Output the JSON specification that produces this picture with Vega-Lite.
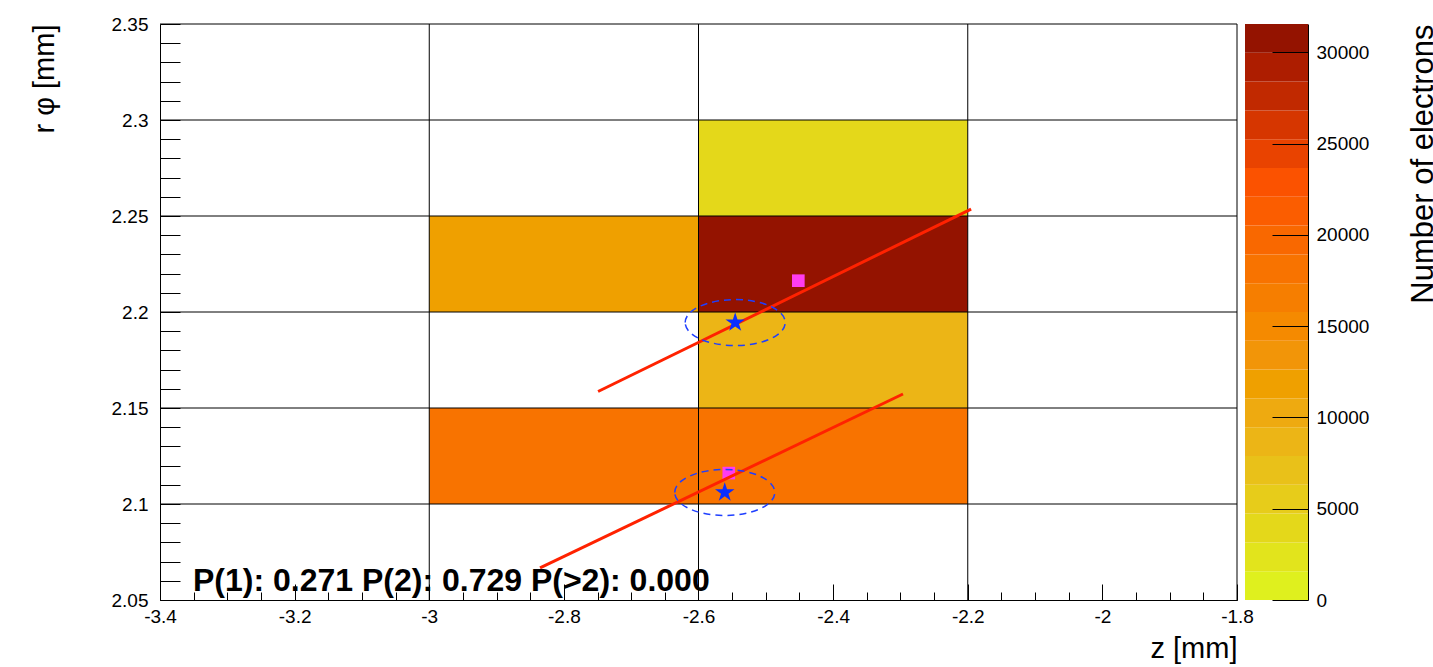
{
  "$schema": "https://vega.github.io/schema/vega-lite/v6.json",
  "width": 1148,
  "height": 576,
  "autosize": {"type": "none"},
  "padding": {"left": 160, "top": 24, "right": 125, "bottom": 67},
  "background": "white",
  "config": {
    "view": {"stroke": null},
    "font": "Liberation Sans",
    "text": {"font": "Liberation Sans"},
    "axis": {
      "labelFont": "Liberation Sans",
      "titleFont": "Liberation Sans",
      "labelColor": "black",
      "titleColor": "black",
      "domainColor": "black",
      "tickColor": "black",
      "domainWidth": 1,
      "tickWidth": 1,
      "grid": false,
      "labelFontSize": 19,
      "titleFontWeight": "normal",
      "zindex": 1
    }
  },
  "datasets": {
    "cells": [
      {"z0": -2.6, "z1": -2.2, "r0": 2.25, "r1": 2.3, "electrons": 4200},
      {"z0": -3.0, "z1": -2.6, "r0": 2.2, "r1": 2.25, "electrons": 11800},
      {"z0": -2.6, "z1": -2.2, "r0": 2.2, "r1": 2.25, "electrons": 31560},
      {"z0": -2.6, "z1": -2.2, "r0": 2.15, "r1": 2.2, "electrons": 8700},
      {"z0": -3.0, "z1": -2.6, "r0": 2.1, "r1": 2.15, "electrons": 18100},
      {"z0": -2.6, "z1": -2.2, "r0": 2.1, "r1": 2.15, "electrons": 18400}
    ],
    "vlines": [{"z": -3.0}, {"z": -2.6}, {"z": -2.2}, {"z": -1.8}],
    "hlines": [{"r": 2.1}, {"r": 2.15}, {"r": 2.2}, {"r": 2.25}, {"r": 2.3}, {"r": 2.35}],
    "tracks": [
      {"track": 1, "z": -2.7492, "r": 2.1586},
      {"track": 1, "z": -2.195, "r": 2.2536},
      {"track": 2, "z": -2.8354, "r": 2.0667},
      {"track": 2, "z": -2.2962, "r": 2.1573}
    ],
    "hits": [
      {"z": -2.5455, "r": 2.1945},
      {"z": -2.561, "r": 2.106}
    ],
    "mc": [
      {"z": -2.4517, "r": 2.2163},
      {"z": -2.555, "r": 2.1161}
    ],
    "probs": [
      {"z": -3.351, "r": 2.0547, "label": "P(1): 0.271 P(2): 0.729 P(>2): 0.000"}
    ],
    "palette": [
      {"lo": 0, "hi": 1578},
      {"lo": 1578, "hi": 3156},
      {"lo": 3156, "hi": 4734},
      {"lo": 4734, "hi": 6312},
      {"lo": 6312, "hi": 7890},
      {"lo": 7890, "hi": 9468},
      {"lo": 9468, "hi": 11046},
      {"lo": 11046, "hi": 12624},
      {"lo": 12624, "hi": 14202},
      {"lo": 14202, "hi": 15780},
      {"lo": 15780, "hi": 17358},
      {"lo": 17358, "hi": 18936},
      {"lo": 18936, "hi": 20514},
      {"lo": 20514, "hi": 22092},
      {"lo": 22092, "hi": 23670},
      {"lo": 23670, "hi": 25248},
      {"lo": 25248, "hi": 26826},
      {"lo": 26826, "hi": 28404},
      {"lo": 28404, "hi": 29982},
      {"lo": 29982, "hi": 31560}
    ]
  },
  "layer": [
    {
      "layer": [
        {
          "data": {"name": "cells"},
          "mark": {"type": "rect"},
          "encoding": {
            "x": {
              "field": "z0", "type": "quantitative",
              "scale": {"domain": [-3.4, -1.8], "range": [0, 1077], "nice": false, "zero": false},
              "axis": {
                "orient": "bottom", "title": "z [mm]", "titleAnchor": "end", "titlePadding": 8, "titleFontSize": 29,
                "values": [-3.4, -3.2, -3, -2.8, -2.6, -2.4, -2.2, -2, -1.8], "tickCount": 200,
                "labelExpr": "toString(datum.value)",
                "tickSize": -16, "labelPadding": 23,
                "labelOverlap": false, "labelFlush": false, "labelBound": false
              }
            },
            "x2": {"field": "z1"},
            "y": {
              "field": "r0", "type": "quantitative",
              "scale": {"domain": [2.05, 2.35], "nice": false, "zero": false},
              "axis": {
                "orient": "left", "title": "r φ [mm]", "titleAnchor": "end", "titleAlign": "right", "titleAngle": 270,
                "titleBaseline": "bottom", "titlePadding": 52, "titleFontSize": 29,
                "values": [2.05, 2.06, 2.07, 2.08, 2.09, 2.1, 2.11, 2.12, 2.13, 2.14, 2.15, 2.16, 2.17, 2.18, 2.19, 2.2, 2.21, 2.22, 2.23, 2.24, 2.25, 2.26, 2.27, 2.28, 2.29, 2.3, 2.31, 2.32, 2.33, 2.34, 2.35],
                "tickCount": 200,
                "labelExpr": "abs(datum.value*20 - round(datum.value*20)) < 0.001 ? toString(datum.value) : ''",
                "tickSize": -20, "labelPadding": 32,
                "labelOverlap": false, "labelFlush": false, "labelBound": false
              }
            },
            "y2": {"field": "r1"},
            "color": {
              "field": "electrons", "type": "quantitative",
              "scale": {
                "type": "threshold",
                "domain": [1578, 3156, 4734, 6312, 7890, 9468, 11046, 12624, 14202, 15780, 17358, 18936, 20514, 22092, 23670, 25248, 26826, 28404, 29982],
                "range": ["#dff01e", "#e2e41c", "#e4d81a", "#e7cc1a", "#e9c119", "#ecb516", "#eeaa10", "#efa000", "#f29508", "#f58a00", "#f67e00", "#f87300", "#f96800", "#fb5d00", "#fb5200", "#e94300", "#d63600", "#c12900", "#ad1d00", "#941300"]
              },
              "legend": null
            }
          }
        },
        {
          "data": {"name": "vlines"},
          "mark": {"type": "rule", "color": "black", "strokeWidth": 1},
          "encoding": {
            "x": {
              "field": "z", "type": "quantitative",
              "scale": {"domain": [-3.4, -1.8], "range": [0, 1077], "nice": false, "zero": false},
              "axis": {
                "orient": "bottom", "title": null, "labels": false, "domain": false, "grid": false,
                "values": [-3.4, -3.35, -3.3, -3.25, -3.2, -3.15, -3.1, -3.05, -3, -2.95, -2.9, -2.85, -2.8, -2.75, -2.7, -2.65, -2.6, -2.55, -2.5, -2.45, -2.4, -2.35, -2.3, -2.25, -2.2, -2.15, -2.1, -2.05, -2, -1.95, -1.9, -1.85, -1.8],
                "tickCount": 200,
                "tickSize": -8
              }
            }
          }
        },
        {
          "data": {"name": "hlines"},
          "mark": {"type": "rule", "color": "black", "strokeWidth": 1},
          "encoding": {
            "x": {"datum": -3.4, "type": "quantitative", "axis": null},
            "x2": {"datum": -1.8},
            "y": {"field": "r", "type": "quantitative", "axis": {"title": "r φ [mm]"}}
          }
        },
        {
          "data": {"name": "mc"},
          "mark": {"type": "point", "shape": "square", "filled": true, "size": 160, "color": "#ff3cf0", "opacity": 1},
          "encoding": {
            "x": {"field": "z", "type": "quantitative", "axis": null},
            "y": {"field": "r", "type": "quantitative", "axis": {"title": "r φ [mm]"}}
          }
        },
        {
          "data": {"name": "tracks"},
          "mark": {"type": "line", "color": "#ff2200", "strokeWidth": 3},
          "encoding": {
            "x": {"field": "z", "type": "quantitative", "axis": null},
            "y": {"field": "r", "type": "quantitative", "axis": {"title": "r φ [mm]"}},
            "detail": {"field": "track", "type": "nominal"}
          }
        },
        {
          "data": {"name": "hits"},
          "mark": {
            "type": "point",
            "shape": "M-1,0A1,0.46,0,1,1,1,0A1,0.46,0,1,1,-1,0Z",
            "filled": false, "size": 10000, "stroke": "#1f3fff", "strokeWidth": 1.5,
            "strokeDash": [7, 5], "opacity": 1
          },
          "encoding": {
            "x": {"field": "z", "type": "quantitative", "axis": null},
            "y": {"field": "r", "type": "quantitative", "axis": {"title": "r φ [mm]"}}
          }
        },
        {
          "data": {"name": "hits"},
          "mark": {
            "type": "point",
            "shape": "M0,-1L0.223,-0.307L0.951,-0.309L0.361,0.117L0.588,0.809L0,0.38L-0.588,0.809L-0.361,0.117L-0.951,-0.309L-0.223,-0.307Z",
            "filled": true, "size": 420, "color": "#0b2dff", "opacity": 1
          },
          "encoding": {
            "x": {"field": "z", "type": "quantitative", "axis": null},
            "y": {"field": "r", "type": "quantitative", "axis": {"title": "r φ [mm]"}}
          }
        },
        {
          "data": {"name": "probs"},
          "mark": {"type": "text", "align": "left", "baseline": "alphabetic", "fontSize": 32, "fontWeight": "bold", "color": "black", "font": "Liberation Sans"},
          "encoding": {
            "x": {"field": "z", "type": "quantitative", "axis": null},
            "y": {"field": "r", "type": "quantitative", "axis": {"title": "r φ [mm]"}},
            "text": {"field": "label"}
          }
        }
      ],
      "resolve": {"axis": {"x": "independent"}}
    },
    {
      "data": {"name": "palette"},
      "mark": {"type": "rect"},
      "encoding": {
        "x": {"datum": 0, "type": "quantitative", "scale": {"domain": [0, 1], "range": [1085, 1148]}, "axis": null},
        "x2": {"datum": 1},
        "y": {
          "field": "lo", "type": "quantitative",
          "scale": {"domain": [0, 31560], "nice": false, "zero": false},
          "axis": {
            "orient": "right", "title": "Number of electrons", "titleAnchor": "end", "titleAlign": "right",
            "titleAngle": 270, "titleBaseline": "top", "titlePadding": 40, "titleFontSize": 31,
            "values": [0, 5000, 10000, 15000, 20000, 25000, 30000], "format": "d", "tickCount": 200,
            "tickSize": -36, "labelPadding": 44, "labelOverlap": false, "labelFlush": false, "labelBound": false,
            "zindex": 1
          }
        },
        "y2": {"field": "hi"},
        "color": {
          "field": "lo", "type": "quantitative",
          "scale": {
            "type": "threshold",
            "domain": [1578, 3156, 4734, 6312, 7890, 9468, 11046, 12624, 14202, 15780, 17358, 18936, 20514, 22092, 23670, 25248, 26826, 28404, 29982],
            "range": ["#dff01e", "#e2e41c", "#e4d81a", "#e7cc1a", "#e9c119", "#ecb516", "#eeaa10", "#efa000", "#f29508", "#f58a00", "#f67e00", "#f87300", "#f96800", "#fb5d00", "#fb5200", "#e94300", "#d63600", "#c12900", "#ad1d00", "#941300"]
          },
          "legend": null
        }
      }
    }
  ],
  "resolve": {"scale": {"x": "independent", "y": "independent"}, "axis": {"x": "independent", "y": "independent"}}
}
